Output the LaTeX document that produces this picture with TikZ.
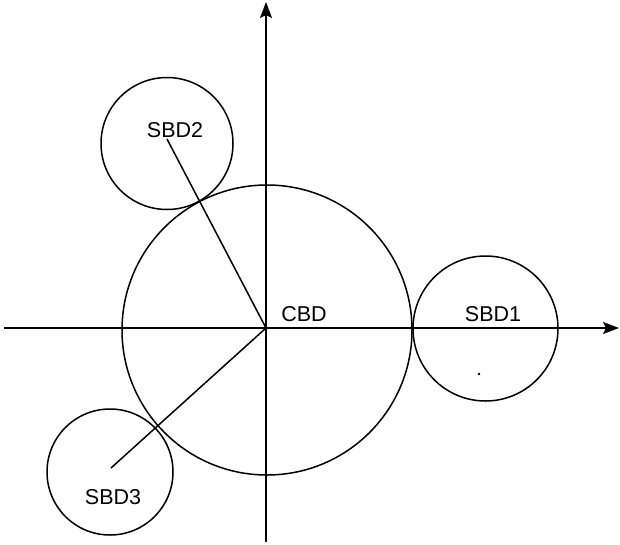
\documentclass[tikz,border=0pt]{standalone}
\usepackage{fontspec}
\setmainfont{Liberation Sans}
\usetikzlibrary{arrows.meta}
\tikzset{>={Stealth[length=16pt,width=12pt,inset=3pt]}}
\tikzset{disc/.style={draw, circle, inner sep=0pt},
	lbl/.style={font=\fontsize{21.5}{25}\selectfont, inner sep=0pt}}

\begin{document}
\begin{tikzpicture}[x=1pt, y=-1pt, line width=1.5pt]
	\useasboundingbox (0,0) rectangle (620,544);

	\coordinate (o) at (266,328);
	\coordinate (xl) at (4,328);
	\coordinate (xr) at (619,328);
	\coordinate (yb) at (266,542);
	\coordinate (yt) at (266,2);

	\draw[->] (xl) -- (xr);
	\draw[->] (yb) -- (yt);

	\node[disc, minimum size=290pt] (cbd) at (267,330) {};
	\node[disc, minimum size=145pt] (sbd1) at (485.5,328.5) {};
	\node[disc, minimum size=132pt] (sbd2) at (167,143.5) {};
	\node[disc, minimum size=126pt] (sbd3) at (110,472) {};

	\node[lbl] (cbdl) at (304,314) {CBD};
	\node[lbl] (sbd1l) at (493,314) {SBD1};
	\node[lbl] (sbd2l) at (175,130) {SBD2};
	\node[lbl] (sbd3l) at (113,497) {SBD3};

	\coordinate (e1) at (486,328);
	\coordinate (e2) at (167,139);
	\coordinate (e3) at (111,468);
	\draw (o) -- (e1);
	\draw (o) -- (e2);
	\draw (o) -- (e3);

	\fill (479,374) circle (1.3);
\end{tikzpicture}
\end{document}
